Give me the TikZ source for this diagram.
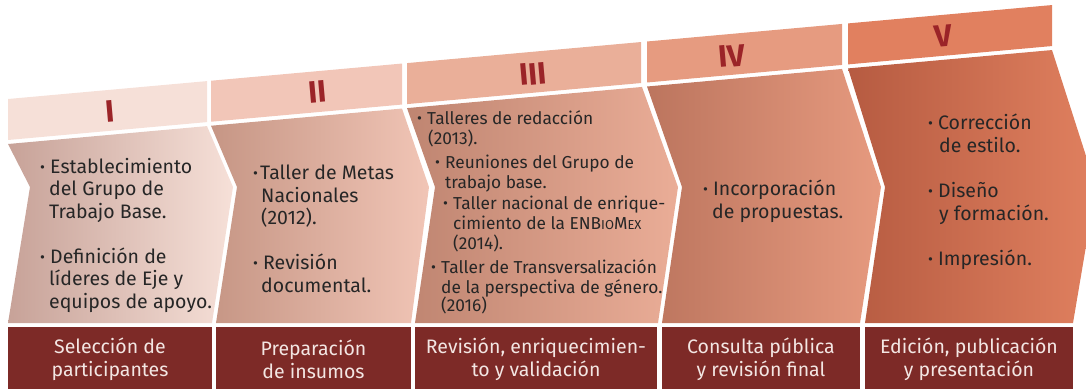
\documentclass[tikz,border=0pt]{standalone}
\usepackage{fontspec}
\setmainfont[Numbers=Lining]{Fira Sans}
\definecolor{bandI}{HTML}{F6E0D8}
\definecolor{bandII}{HTML}{F2C6B8}
\definecolor{bandIII}{HTML}{EAAF99}
\definecolor{bandIV}{HTML}{E69B80}
\definecolor{bandV}{HTML}{E1805F}
\definecolor{lI}{HTML}{C7A298}\definecolor{rI}{HTML}{F6E0D8}
\definecolor{lII}{HTML}{C69685}\definecolor{rII}{HTML}{F1C5B6}
\definecolor{lIII}{HTML}{BF8571}\definecolor{rIII}{HTML}{EAAD97}
\definecolor{lIV}{HTML}{BC755E}\definecolor{rIV}{HTML}{E69A7F}
\definecolor{lV}{HTML}{B65B41}\definecolor{rV}{HTML}{E0805F}
\definecolor{wine}{HTML}{7D2A27}
\definecolor{numred}{HTML}{9B2428}
\definecolor{ink}{HTML}{262626}
\definecolor{paper}{HTML}{F3E6E3}
\newcommand{\bl}{\makebox[10pt][l]{\raisebox{1pt}{\fontsize{15}{15}\selectfont\textbullet}}}
\newcommand{\hg}{\hspace*{9pt}}

\begin{document}
\begin{tikzpicture}[x=1pt, y=-1pt,
    numeral/.style = {text=numred, font=\fontsize{31}{31}\selectfont\bfseries, rotate=5, inner sep=0},
    chevtext/.style = {anchor=north west, align=left, inner sep=0, text=ink, font=\fontsize{19.5}{22.5}\selectfont},
    phase/.style = {align=center, inner sep=0, text=paper, font=\fontsize{19.5}{23}\selectfont}
    ]
\useasboundingbox (0,0) rectangle (1086,389);
\clip (0,0) rectangle (1086,389);
% header bands with numerals
\foreach \a/\b/\c/\x/\y in {8/207/I/110/111, 211/402/II/318/92, 407/641/III/533/74,
   647/842/IV/732/56, 848/1052/V/943/36}
 {
  \fill[band\c] (\a,{99-0.09*(\a-8)}) -- (\b,{99-0.09*(\b-8)})
     -- (\b,{140-0.09*(\b-8)}) -- (\a,{140-0.09*(\a-8)}) -- cycle;
  \node (num\c) [numeral] at (\x,\y) {\c};
 }
% chevrons
\foreach \la/\lm/\lb/\ra/\rm/\rb/\c in {8/30/8/207/233/212/I, 211/237/216/402/429/411/II,
   407/435/415/642/678/658/III, 647/682/662/842/881/860/IV, 848/885/865/1052/1096/1073/V}
  \shade[left color=l\c, right color=r\c] (\la,{144-0.09*(\la-8)}) -- (\lm,187) -- (\lb,323)
     -- (\rb,323) -- (\rm,187) -- (\ra,{144-0.09*(\ra-8)}) -- cycle;
% phase boxes
\foreach \a/\b/\t [count=\i] in {8/212/{Selección de\\participantes}, 216/411/{Preparación\\de insumos},
   415/657/{Revisión, enriquecimien-\\to y validación}, 662/860/{Consulta pública\\y revisión final},
   865/1073/{Edición, publicación\\y presentación}}
 {
  \fill[wine] (\a,327) rectangle (\b,389);
  \node (phase\i) [phase] at ({(\a+\b)/2},359) {\t};
 }
% texts
\node (txtI) [chevtext] at (40,158) {\bl Establecimiento\\ \hg del Grupo de\\ \hg Trabajo Base.\\[22.5pt]
   \bl Definición de\\ \hg líderes de Eje y\\ \hg equipos de apoyo.};
\node (txtII) [chevtext] at (253,165) {\makebox[7pt][l]{\raisebox{1pt}{\fontsize{15}{15}\selectfont\textbullet}}Taller de Metas\\
   \hspace*{8pt}Nacionales\\ \hspace*{8pt}(2012).\\[22.5pt]
   \bl Revisión\\ \hspace*{8pt}documental.};
\node (txtIII) [chevtext, font=\fontsize{17.3}{20}\selectfont] at (417,110)
  {\bl Talleres de redacción\\ \hspace*{11pt}(2013).\\[4pt]
   \hspace*{18pt}\bl Reuniones del Grupo de\\ \hspace*{28pt}trabajo base.\\[1pt]
   \hspace*{26pt}\bl Taller nacional de enrique-\\ \hspace*{36pt}cimiento de la ENB{\fontsize{13}{13}\selectfont IO}M{\fontsize{13}{13}\selectfont EX}\\
   \hspace*{36pt}(2014).\\[4pt]
   \hspace*{14pt}\bl Taller de Transversalización\\ \hspace*{24pt}de la perspectiva de género.\\[-2pt]
   \hspace*{24pt}(2016)};
\node (txtIV) [chevtext] at (703,180) {\bl Incorporación\\ \hg de propuestas.};
\node (txtV) [chevtext] at (928,114) {\bl Corrección\\ \hspace*{11pt}de estilo.\\[23pt]
   \bl Diseño\\ \hspace*{11pt}y formación.\\[23pt] \bl Impresión.};
\end{tikzpicture}
\end{document}
